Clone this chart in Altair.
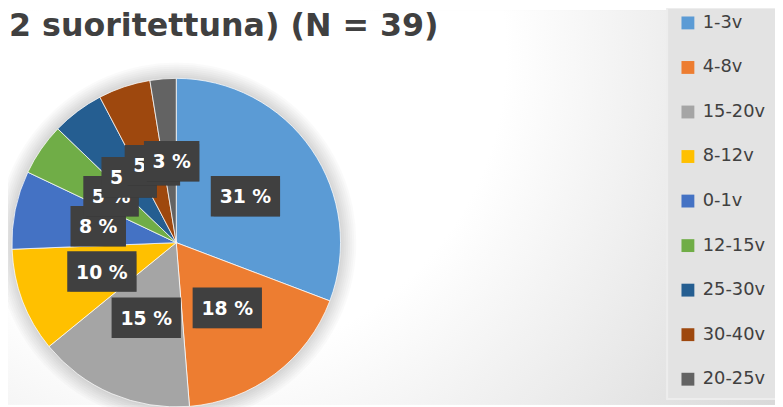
import altair as alt
import pandas as pd

# ---- data ----
categories = ["1-3v", "4-8v", "15-20v", "8-12v", "0-1v", "12-15v", "25-30v", "30-40v", "20-25v"]
counts = [12, 7, 6, 4, 3, 2, 2, 2, 1]
colors = ["#5B9BD5", "#ED7D31", "#A5A5A5", "#FFC000", "#4472C4", "#70AD47", "#255E91", "#9E480E", "#636363"]
title_text = "2 suoritettuna) (N = 39)"

df = pd.DataFrame({"cat": categories, "n": counts, "idx": list(range(len(categories)))})
one = pd.DataFrame({"t": [title_text]})

W, H = 775, 399
CX, CY, R = 170, 235, 166
LR = 82.5
FONT = "DejaVu Sans"

xs = alt.Scale(domain=[-CX, W - CX], range=[0, W], zero=False, nice=False)
ys = alt.Scale(domain=[-CY, H - CY], range=[0, H], zero=False, nice=False)

color = alt.Color(
    "cat:N",
    scale=alt.Scale(domain=categories, range=colors),
    legend=alt.Legend(
        title=None, orient="none", legendX=678, legendY=4,
        symbolType="square", symbolSize=169, symbolStrokeWidth=0,
        labelFont=FONT, labelFontSize=18, labelColor="#404040",
        labelOffset=6, rowPadding=27, padding=0,
    ),
)

# background with a soft radial shading
bg = alt.Chart(one).mark_rect(
    fill=alt.RadialGradient(
        gradient="radial", x1=0.25, y1=0.3, r1=0, x2=0.25, y2=0.3, r2=0.95,
        stops=[alt.GradientStop(color="#ffffff", offset=0),
               alt.GradientStop(color="#ffffff", offset=0.42),
               alt.GradientStop(color="#d3d3d3", offset=1)],
    )
).encode(x=alt.value(0), x2=alt.value(W), y=alt.value(0), y2=alt.value(H))

# legend panel
panel = alt.Chart(one).mark_rect(
    fill="#e3e3e3", stroke="#ededed", strokeWidth=2
).encode(x=alt.value(666), x2=alt.value(W + 2), y=alt.value(-2), y2=alt.value(393))

# soft glow around the pie
glow = [
    alt.Chart(one).mark_arc(theta=0, theta2=6.2832, outerRadius=R + 2 * k, color="black", opacity=0.018)
    .encode(x=alt.value(CX), y=alt.value(CY))
    for k in range(1, 9)
]

pie = alt.Chart(df).mark_arc(outerRadius=R, stroke="white", strokeWidth=0.75).encode(
    theta=alt.Theta("n:Q", stack=True),
    color=color,
    order=alt.Order("idx:Q"),
    x=alt.value(CX), y=alt.value(CY),
)


def lab_base(i):
    return (
        alt.Chart(df)
        .transform_joinaggregate(total="sum(n)")
        .transform_window(cum="sum(n)", sort=[alt.SortField("idx")], frame=[None, 0])
        .transform_calculate(
            mid="(datum.cum - datum.n/2) / datum.total * 2 * PI",
            pct="round(datum.n / datum.total * 100) + ' %'",
        )
        .transform_calculate(
            lx=f"{LR} * sin(datum.mid) + 2",
            ly=f"-{LR} * cos(datum.mid)",
            hw="7 * length(datum.pct) + 7",
        )
        .transform_calculate(
            bx1="datum.lx - datum.hw", bx2="datum.lx + datum.hw",
            by1="datum.ly - 20.5", by2="datum.ly + 20.5",
        )
        .transform_filter(f"datum.idx == {i}")
    )


labels = []
for i in range(len(categories)):
    b = lab_base(i)
    shadow = b.mark_rect(color="black", opacity=0.28, xOffset=3, yOffset=3).encode(
        x=alt.X("bx1:Q", scale=xs, axis=None), x2="bx2:Q",
        y=alt.Y("by1:Q", scale=ys, axis=None), y2="by2:Q",
    )
    box = b.mark_rect(color="#404040").encode(
        x=alt.X("bx1:Q", scale=xs, axis=None), x2="bx2:Q",
        y=alt.Y("by1:Q", scale=ys, axis=None), y2="by2:Q",
    )
    txt = b.mark_text(font=FONT, fontSize=19, fontWeight="bold", color="white",
                      align="center", baseline="middle", dy=1).encode(
        x=alt.X("lx:Q", scale=xs, axis=None),
        y=alt.Y("ly:Q", scale=ys, axis=None),
        text="pct:N",
    )
    labels += [shadow, box, txt]

title = alt.Chart(one).mark_text(
    font=FONT, fontSize=32, fontWeight="bold", color="#404040",
    align="left", baseline="alphabetic",
).encode(x=alt.value(1), y=alt.value(26), text="t:N")

chart = alt.layer(bg, panel, *glow, pie, *labels, title).properties(
    width=W, height=H,
    autosize=alt.AutoSizeParams(type="none"),
    padding=0,
    background="white",
).configure_view(stroke=None)

chart.save("out.html", embed_options={"renderer": "svg", "actions": False})
